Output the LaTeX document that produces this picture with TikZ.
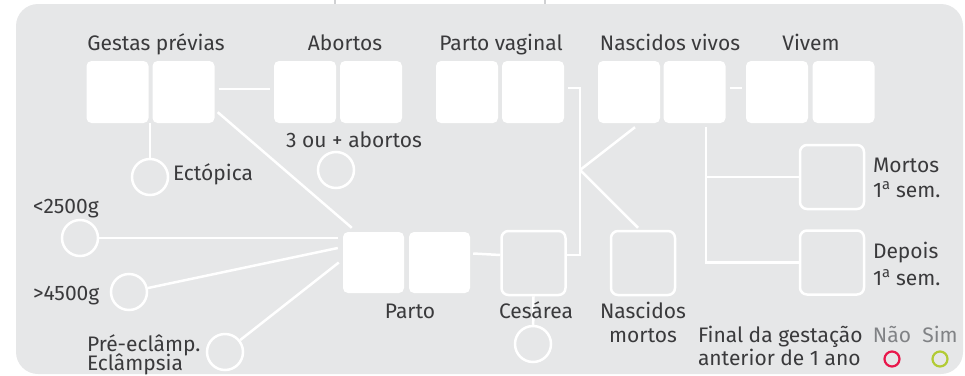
\documentclass[tikz,border=0pt]{standalone}
\usepackage{fontspec}
\setmainfont{Fira Sans}
\definecolor{panel}{HTML}{E6E7E8}
\definecolor{txt}{HTML}{3A3A3C}
\definecolor{soft}{HTML}{808285}
\definecolor{nao}{HTML}{E8174B}
\definecolor{sim}{HTML}{B2CB35}
\definecolor{tickgray}{HTML}{CFD0D2}
\begin{document}
\begin{tikzpicture}[x=1pt,y=-1pt,
  box/.style={fill=white, rounded corners=5pt, minimum width=62pt, minimum height=62pt, inner sep=0pt},
  obox/.style={draw=white, line width=2.5pt, rounded corners=7pt, minimum width=64pt, minimum height=64pt, inner sep=0pt},
  circ/.style={circle, draw=white, line width=2.5pt, minimum size=36pt, inner sep=0pt},
  dot/.style={circle, line width=2.2pt, minimum size=15pt, inner sep=0pt},
  conn/.style={draw=white, line width=2.5pt},
  lbl/.style={text=txt, font=\fontsize{21}{24}\selectfont, inner sep=0pt, outer sep=0pt},
  lbs/.style={lbl, text=soft}
]
\useasboundingbox (0,0) rectangle (965,375);
\fill[panel, rounded corners=22pt] (16,4) rectangle (963,374);
\draw[tickgray, line width=2pt] (335,0) -- (335,4);
\draw[tickgray, line width=2pt] (545,0) -- (545,4);

% top row boxes
\node[box] (g1) at (117.5,92) {};
\node[box] (g2) at (183.5,92) {};
\node[box] (a1) at (305,92) {};
\node[box] (a2) at (371,92) {};
\node[box] (pv1) at (467,92) {};
\node[box] (pv2) at (533,92) {};
\node[box] (nv1) at (629,92) {};
\node[box] (nv2) at (694.5,92) {};
\node[box] (v1) at (777,92) {};
\node[box] (v2) at (843.5,92) {};

% Parto boxes
\node[box, minimum width=61pt, minimum height=61pt] (p1) at (373.5,262.5) {};
\node[box, minimum width=61pt, minimum height=61pt] (p2) at (439.5,262.5) {};

% outlined boxes
\node[obox] (ces) at (533.5,263) {};
\node[obox] (nm) at (643,263) {};
\node[obox] (mort) at (832,177) {};
\node[obox] (dep) at (832,262.5) {};

% circles
\node[circ] (ect) at (150,177) {};
\node[circ] (ab3) at (336,170) {};
\node[circ] (c25) at (80,238) {};
\node[circ] (c45) at (129,292) {};
\node[circ] (cpe) at (225,352) {};
\node[circ] (cces) at (533,344) {};
\node[dot, draw=nao] (dnao) at (892,359) {};
\node[dot, draw=sim] (dsim) at (940,359) {};

% connectors
\coordinate (k) at (580,170);
\coordinate (nvb) at ([shift={(11.5,4)}]nv2.south);
\draw[conn] ([shift={(4,-3)}]g2.east) -- ([shift={(-4,-3)}]a1.west);
\draw[conn] ([shift={(3,-11)}]g2.south east) -- ([shift={(9,-4)}]p1.north west);
\draw[conn] (ect.north) -- (ect.north |- g1.south);
\draw[conn] ([shift={(4,-4)}]pv2.east) -| (k) |- ([yshift=8pt]ces.east);
\draw[conn] (k) -- ([shift={(6,4)}]nv1.south);
\draw[conn] (k) -- ([shift={(-5,-2)}]nm.north);
\draw[conn] ([shift={(4,-4)}]nv2.east) -- ([shift={(-4,-4)}]v1.west);
\draw[conn] (nvb) |- (dep.west);
\draw[conn] (nvb |- mort.west) -- (mort.west);
\draw[conn] ([shift={(3,-9)}]p2.east) -- ([yshift=8pt]ces.west);
\draw[conn] (c25.east) -- ([xshift=-5pt]c25.east -| p1.west);
\draw[conn] (c45) -- ([shift={(-5,-14.5)}]p1.west);
\draw[conn] (cpe) -- ([shift={(-4,0)}]p1.west);
\draw[conn] (ces.south) -- (cces);

% labels
\node[lbl, anchor=base] (lgp) at (156,50) {Gestas prévias};
\node[lbl, anchor=base] (lab) at (345,50) {Abortos};
\node[lbl, anchor=base] (lpv) at (501,50) {Parto vaginal};
\node[lbl, anchor=base] (lnv) at (670,50) {Nascidos vivos};
\node[lbl, anchor=base] (lvi) at (811,50) {Vivem};
\node[lbl, anchor=base] (l3a) at (354,147) {3 ou + abortos};
\node[lbl, anchor=base west] (lect) at (173,180) {Ectópica};
\node[lbl, anchor=base west] (l25) at (33,213) {<2500g};
\node[lbl, anchor=base west] (l45) at (33,300) {>4500g};
\node[lbl, anchor=base west] (lpe1) at (87,351) {Pré-eclâmp.};
\node[lbl, anchor=base west] (lpe2) at (87,370) {Eclâmpsia};
\node[lbl, anchor=base] (lpa) at (410,318) {Parto};
\node[lbl, anchor=base] (lce) at (536,318) {Cesárea};
\node[lbl, anchor=base] (lnm1) at (643,318) {Nascidos};
\node[lbl, anchor=base] (lnm2) at (643,342) {mortos};
\node[lbl, anchor=base west] (lmo1) at (873,172) {Mortos};
\node[lbl, anchor=base west] (lmo2) at (873,197) {1\textsuperscript{a} sem.};
\node[lbl, anchor=base west] (lde1) at (873,258) {Depois};
\node[lbl, anchor=base west] (lde2) at (873,285) {1\textsuperscript{a} sem.};
\node[lbl, anchor=base west] (lfg1) at (698,342) {Final da gestação};
\node[lbl, anchor=base west] (lfg2) at (698,365) {anterior de 1 ano};
\node[lbs, anchor=base] (lnao) at (892,342) {Não};
\node[lbs, anchor=base] (lsim) at (940,342) {Sim};
\end{tikzpicture}
\end{document}
